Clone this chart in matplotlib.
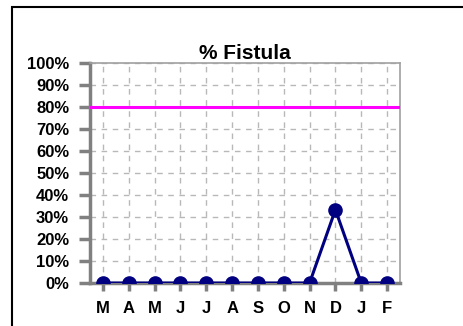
import matplotlib
matplotlib.use("Agg")
import matplotlib.pyplot as plt
from matplotlib.patches import Rectangle

months = ["M", "A", "M", "J", "J", "A", "S", "O", "N", "D", "J", "F"]
fistula_pct = [0, 0, 0, 0, 0, 0, 0, 0, 0, 33.3, 0, 0]
target_pct = 80
yticks = [0, 10, 20, 30, 40, 50, 60, 70, 80, 90, 100]
ytick_labels = [f"{v}%" for v in yticks]

plt.rcParams['font.family'] = ['Liberation Sans', 'DejaVu Sans']

W, H = 464, 326
fig = plt.figure(figsize=(W/100, H/100), dpi=100)
fig.patch.set_facecolor("white")

# outer frame
fig.add_artist(Rectangle((12.5/W, -0.1), 1.2, (H - 6.5)/H + 0.1,
                         transform=fig.transFigure, fill=False,
                         edgecolor="black", linewidth=1.5))

left, right, top, bottom = 90, 400, 63, 283
ax = fig.add_axes([left/W, 1 - bottom/H, (right-left)/W, (bottom-top)/H])

x = list(range(len(months)))
ax.axhline(target_pct, color="#FF00FF", linewidth=2.2, zorder=3)
ax.plot(x, fistula_pct, color="#000080", linewidth=2.2, marker="o",
        markersize=9.5, zorder=4, clip_on=True)

ax.set_xlim(-0.5, len(months) - 0.5)
ax.set_ylim(0, 100)
ax.set_xticks(x)
ax.set_xticklabels(months, fontsize=12, fontweight="bold")
ax.set_yticks(yticks)
ax.set_yticklabels(ytick_labels, fontsize=12, fontweight="bold")

ax.grid(True, color="#B8B8B8", linestyle=(0, (4, 4)), linewidth=1)
ax.set_axisbelow(True)

for s in ["top", "right"]:
    ax.spines[s].set_color("#A0A0A0")
    ax.spines[s].set_linewidth(1.2)
for s in ["left", "bottom"]:
    ax.spines[s].set_color("#808080")
    ax.spines[s].set_linewidth(2.5)

ax.tick_params(axis="y", length=8, width=2.5, color="#808080", pad=7)
ax.tick_params(axis="x", length=6, width=2.5, color="#808080", pad=7)

ax.set_title("% Fistula", fontsize=15, fontweight="bold", pad=3)

fig.savefig("out.png", dpi=100)
